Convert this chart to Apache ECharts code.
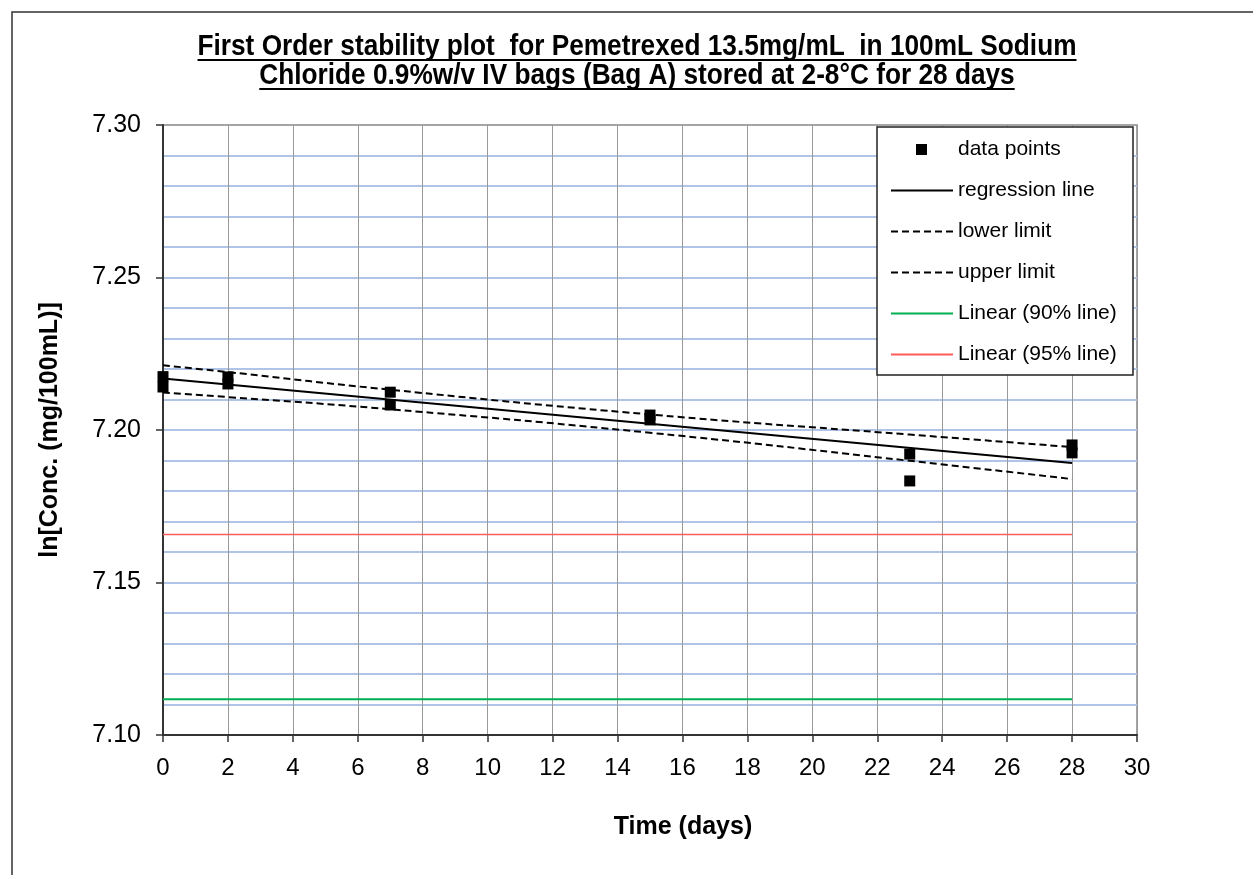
<!DOCTYPE html>
<html>
<head>
<meta charset="utf-8">
<script src="https://cdn.jsdelivr.net/npm/echarts@6/dist/echarts.min.js"></script>
<style>
html,body{margin:0;padding:0;background:#fff;}
#chart{width:1253px;height:875px;}
</style>
</head>
<body>
<div id="chart"></div>
<script>
// ---- data ----
const titleLines = [
  'First Order stability plot  for Pemetrexed 13.5mg/mL  in 100mL Sodium',
  'Chloride 0.9%w/v IV bags (Bag A) stored at 2-8\u00B0C for 28 days'
];
const pointDays = [0, 0, 2, 2, 7, 7, 15, 15, 23, 23, 28, 28];
const pointLnConc = [7.2175, 7.2141, 7.2174, 7.2151, 7.2124, 7.2082, 7.2049, 7.2033, 7.1921, 7.1833, 7.1951, 7.1925];
const regDays = [0, 28];
const regValues = [7.2169, 7.1892];
const limitDays = [0, 2, 7, 15, 23, 28];
const lowerLimit = [7.2123, 7.2108, 7.2068, 7.1991, 7.1899, 7.1839];
const upperLimit = [7.2212, 7.2190, 7.2132, 7.2051, 7.1985, 7.1944];
const refDays = [0, 28];
const line90 = [7.1117, 7.1117];
const line95 = [7.1657, 7.1657];
const xTicks = {min: 0, max: 30, interval: 2};
const yTicks = {min: 7.10, max: 7.30, interval: 0.05};
const seriesNames = ['data points', 'regression line', 'lower limit', 'upper limit', 'Linear (90% line)', 'Linear (95% line)'];

function pairs(xs, ys) { return xs.map((x, i) => [x, ys[i]]); }

const FONT = "'Liberation Sans', Arial, sans-serif";
const TITLE_FONT = "'Liberation Sans', Arial, sans-serif";
const titleSize = 29;
const titleTargetWidth = 879;
const chart = echarts.init(document.getElementById('chart'), null, {renderer: 'canvas'});

// measure first title line to emulate a narrow bold face
const cv = document.createElement('canvas').getContext('2d');
cv.font = 'bold ' + titleSize + 'px ' + TITLE_FONT;
const sx = titleTargetWidth / cv.measureText(titleLines[0]).width;
const titleCx = 637;
const titleYs = [47, 76];
const titleGraphics = [];
titleLines.forEach((t, i) => {
  const w = cv.measureText(t).width * sx;
  titleGraphics.push({
    type: 'text', x: titleCx, y: titleYs[i], scaleX: sx, z: 10,
    style: {text: t, font: 'bold ' + titleSize + 'px ' + TITLE_FONT, fill: '#000', textAlign: 'center', textVerticalAlign: 'middle'}
  });
  titleGraphics.push({
    type: 'line', z: 10,
    shape: {x1: titleCx - w / 2, y1: titleYs[i] + 13, x2: titleCx + w / 2, y2: titleYs[i] + 13},
    style: {stroke: '#000', lineWidth: 2}
  });
});

const option = {
  backgroundColor: '#fff',
  animation: false,
  graphic: [
    {type: 'rect', z: -10, shape: {x: 12, y: 12, width: 1260, height: 880}, style: {fill: 'none', stroke: '#333', lineWidth: 1.5}},
    {type: 'rect', z: 3, shape: {x: 877, y: 127, width: 256, height: 248}, style: {fill: '#fff', stroke: '#222', lineWidth: 1.5}}
  ].concat(titleGraphics),
  grid: {left: 163, right: 116, top: 125, bottom: 140, show: true, borderColor: '#888', borderWidth: 1.5, containLabel: false},
  legend: [
    {
      data: [seriesNames[0]], left: 916, top: 139, padding: 0, z: 5,
      itemWidth: 11, itemHeight: 11, icon: 'rect', selectedMode: false,
      itemStyle: {opacity: 1},
      textStyle: {fontFamily: FONT, fontSize: 21, color: '#000', padding: [0, 0, 0, 26]}
    },
    {
      data: seriesNames.slice(1), orient: 'vertical', left: 890, top: 180, padding: 0, z: 5,
      itemWidth: 62, itemHeight: 14, itemGap: 20, selectedMode: false,
      itemStyle: {opacity: 0},
      textStyle: {fontFamily: FONT, fontSize: 21, color: '#000'}
    }
  ],
  xAxis: {
    type: 'value', min: xTicks.min, max: xTicks.max, interval: xTicks.interval,
    name: 'Time (days)', nameLocation: 'middle', nameGap: 80,
    nameTextStyle: {fontFamily: FONT, fontSize: 25, fontWeight: 'bold', color: '#000', padding: [0, 0, 0, 66]},
    axisLine: {onZero: false, lineStyle: {color: '#333', width: 2}},
    axisTick: {show: true, inside: false, length: 7, lineStyle: {color: '#333', width: 1.5}},
    axisLabel: {fontFamily: FONT, fontSize: 24, color: '#000', margin: 21},
    splitLine: {show: true, lineStyle: {color: '#999', width: 1}}
  },
  yAxis: {
    type: 'value', min: yTicks.min, max: yTicks.max, interval: yTicks.interval,
    name: 'ln[Conc. (mg/100mL)]', nameLocation: 'middle', nameGap: 100,
    nameTextStyle: {fontFamily: FONT, fontSize: 25, fontWeight: 'bold', color: '#000'},
    axisLine: {show: true, lineStyle: {color: '#333', width: 2}},
    axisTick: {show: true, inside: false, length: 7, lineStyle: {color: '#333', width: 1.5}},
    axisLabel: {fontFamily: FONT, fontSize: 25, color: '#000', margin: 22, formatter: v => v.toFixed(2)},
    splitLine: {show: true, showMaxLine: false, lineStyle: {color: '#b0c4e8', width: 2}},
    minorTick: {show: false, splitNumber: 5},
    minorSplitLine: {show: true, lineStyle: {color: '#b0c4e8', width: 2}}
  },
  series: [
    {name: seriesNames[4], type: 'line', data: pairs(refDays, line90), symbol: 'none', color: '#00b050', lineStyle: {color: '#00b050', width: 2}, z: 2},
    {name: seriesNames[5], type: 'line', data: pairs(refDays, line95), symbol: 'none', color: '#ff5b5b', lineStyle: {color: '#ff5b5b', width: 1.5}, z: 2},
    {name: seriesNames[2], type: 'line', data: pairs(limitDays, lowerLimit), symbol: 'none', smooth: true, color: '#000', lineStyle: {color: '#000', width: 2, type: [7, 4]}, z: 3},
    {name: seriesNames[3], type: 'line', data: pairs(limitDays, upperLimit), symbol: 'none', smooth: true, color: '#000', lineStyle: {color: '#000', width: 2, type: [7, 4]}, z: 3},
    {name: seriesNames[1], type: 'line', data: pairs(regDays, regValues), symbol: 'none', color: '#000', lineStyle: {color: '#000', width: 2}, z: 3},
    {name: seriesNames[0], type: 'scatter', data: pairs(pointDays, pointLnConc), symbol: 'rect', symbolSize: 11, color: '#000', itemStyle: {color: '#000', opacity: 1}, z: 4}
  ]
};
chart.setOption(option);
</script>
</body>
</html>
